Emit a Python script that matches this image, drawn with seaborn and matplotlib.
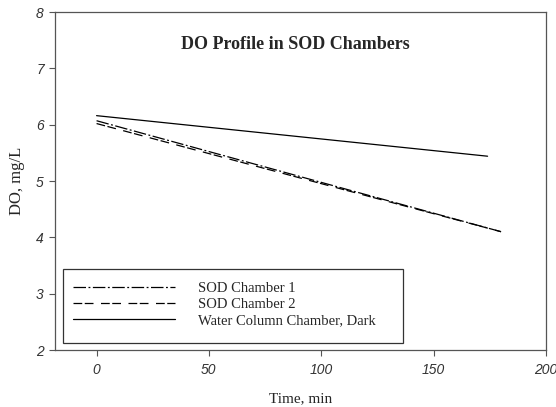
import matplotlib
matplotlib.use("Agg")
import matplotlib.pyplot as plt
from matplotlib.patches import Rectangle
import seaborn as sns
import pandas as pd

# Data
time_sod1 = [0, 180]
do_sod1 = [6.07, 4.10]
time_sod2 = [0, 180]
do_sod2 = [6.02, 4.10]
time_wc = [0, 174]
do_wc = [6.16, 5.44]
series_names = ["SOD Chamber 1", "SOD Chamber 2", "Water Column Chamber, Dark"]
x_ticks = [0, 50, 100, 150, 200]
y_ticks = [2, 3, 4, 5, 6, 7, 8]

df = pd.concat([
    pd.DataFrame({"Time": time_sod1, "DO": do_sod1, "Series": series_names[0]}),
    pd.DataFrame({"Time": time_sod2, "DO": do_sod2, "Series": series_names[1]}),
    pd.DataFrame({"Time": time_wc, "DO": do_wc, "Series": series_names[2]}),
], ignore_index=True)

sns.set_style("ticks")
plt.rcParams["font.family"] = ["Liberation Serif", "DejaVu Serif"]

fig = plt.figure(figsize=(5.56, 4.07), dpi=100)
ax = fig.add_axes([55/556, 1-350/407, (546-55)/556, (350-12)/407])

dashes = {
    series_names[0]: (10, 2, 1.5, 2),
    series_names[1]: (7, 2, 7, 6),
    series_names[2]: "",
}
sns.lineplot(data=df, x="Time", y="DO", style="Series", dashes=dashes,
             color="black", linewidth=0.9, ax=ax, legend=True)

ax.set_xlim(-18.5, 200)
ax.set_ylim(2, 8)
ax.set_xticks(x_ticks)
ax.set_yticks(y_ticks)
ax.set_xticklabels([str(t) for t in x_ticks], fontfamily="Liberation Sans",
                   fontstyle="italic", fontsize=10, color="#333333")
ax.set_yticklabels([str(t) for t in y_ticks], fontfamily="Liberation Sans",
                   fontstyle="italic", fontsize=10, color="#333333")
ax.tick_params(axis="x", direction="out", length=4, width=0.8, color="#555555", pad=5)
ax.tick_params(axis="y", direction="out", length=4, width=0.8, color="#555555", pad=4)
for s in ax.spines.values():
    s.set_visible(True)
    s.set_color("#555555")
    s.set_linewidth(0.9)

ax.set_xlabel("Time, min", fontsize=11, labelpad=11)
ax.set_ylabel("DO, mg/L", fontsize=12, labelpad=8)
ax.set_title("DO Profile in SOD Chambers", fontsize=13, fontweight="bold",
             x=0.49, y=0.865)

leg = ax.legend(loc="lower left", bbox_to_anchor=(0.0367, 0.068),
                fontsize=10.5, frameon=False, handlelength=7.0, handletextpad=1.6,
                borderpad=0, labelspacing=0.2, borderaxespad=0, title=None)
for line in leg.get_lines():
    line.set_linewidth(0.9)

# legend box as in the reference (wider than its contents)
ax.add_patch(Rectangle((0.0163, 0.0207), 0.709 - 0.0163, 0.2396 - 0.0207,
                       transform=ax.transAxes, fill=False, edgecolor="#333333",
                       linewidth=0.9, zorder=5))

fig.savefig("out.png", dpi=100)
